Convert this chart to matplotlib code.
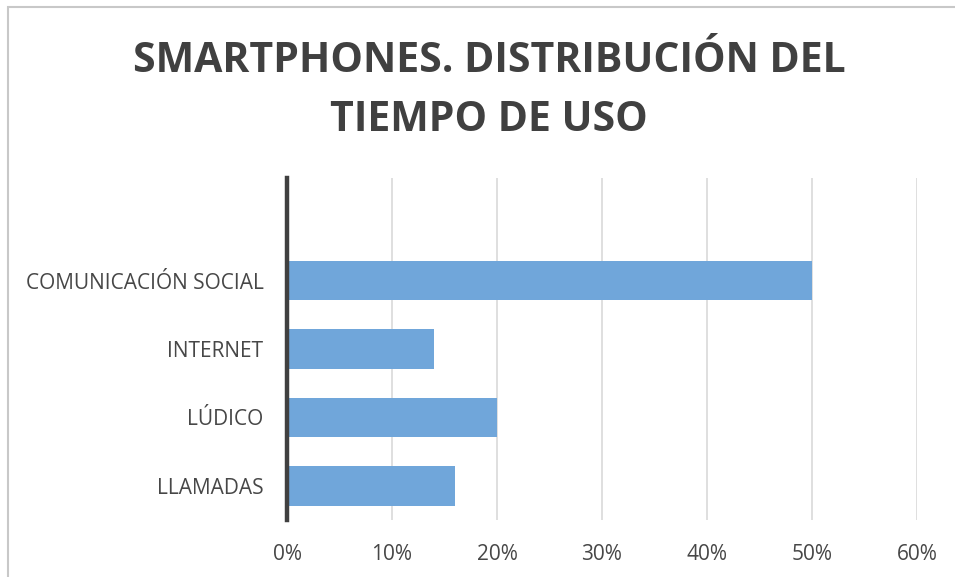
import matplotlib
matplotlib.use("Agg")
import matplotlib.pyplot as plt
from matplotlib.patches import Rectangle
from matplotlib.ticker import FuncFormatter

# Data (top to bottom); the first slot is empty in the original chart
categories = ["", "COMUNICACIÓN SOCIAL", "INTERNET", "LÚDICO", "LLAMADAS"]
values = [0, 50, 14, 20, 16]
x_ticks = [0, 10, 20, 30, 40, 50, 60]

BAR = "#70a6da"
INK = "#404040"
MUTED = "#474747"
GRID = "#d9d9d9"

W, H = 955, 577
fig = plt.figure(figsize=(W / 100, H / 100), dpi=100)
fig.patch.set_facecolor("white")

# chart frame (left and top edges visible)
fig.add_artist(Rectangle((8 / W, -0.1), 2.0, 1 - 7 / H + 0.1, transform=fig.transFigure,
                         fill=False, edgecolor="#c8c8c8", linewidth=1.5))

ax = fig.add_axes([287 / W, 1 - 520 / H, (917 - 287) / W, (520 - 178) / H])
ypos = list(range(len(categories)))
ax.barh(ypos, values, height=0.58, color=BAR, zorder=3)
ax.set_ylim(len(categories) - 0.5, -0.5)
ax.set_xlim(0, 60)
ax.set_xticks(x_ticks)
ax.xaxis.set_major_formatter(FuncFormatter(lambda v, _: f"{v:.0f}%"))
ax.set_yticks(ypos)
ax.set_yticklabels(categories)

for s in ("top", "right", "bottom"):
    ax.spines[s].set_visible(False)
ax.spines["left"].set_color(INK)
ax.spines["left"].set_linewidth(3.2)
ax.spines["left"].set_zorder(4)
ax.grid(axis="x", color=GRID, linewidth=1.2, zorder=0)
ax.tick_params(length=0, labelcolor=MUTED, labelsize=15)
ax.tick_params(axis="x", pad=17)
ax.tick_params(axis="y", pad=17)
for lab in ax.get_xticklabels() + ax.get_yticklabels():
    lab.set_family("Open Sans")

fig.text(489 / W, 1 - 91 / H, "SMARTPHONES. DISTRIBUCIÓN DEL\nTIEMPO DE USO",
         ha="center", va="center", fontsize=29.5, fontweight="bold", color=INK,
         family="Open Sans", linespacing=1.55)

fig.savefig("out.png", dpi=100)
